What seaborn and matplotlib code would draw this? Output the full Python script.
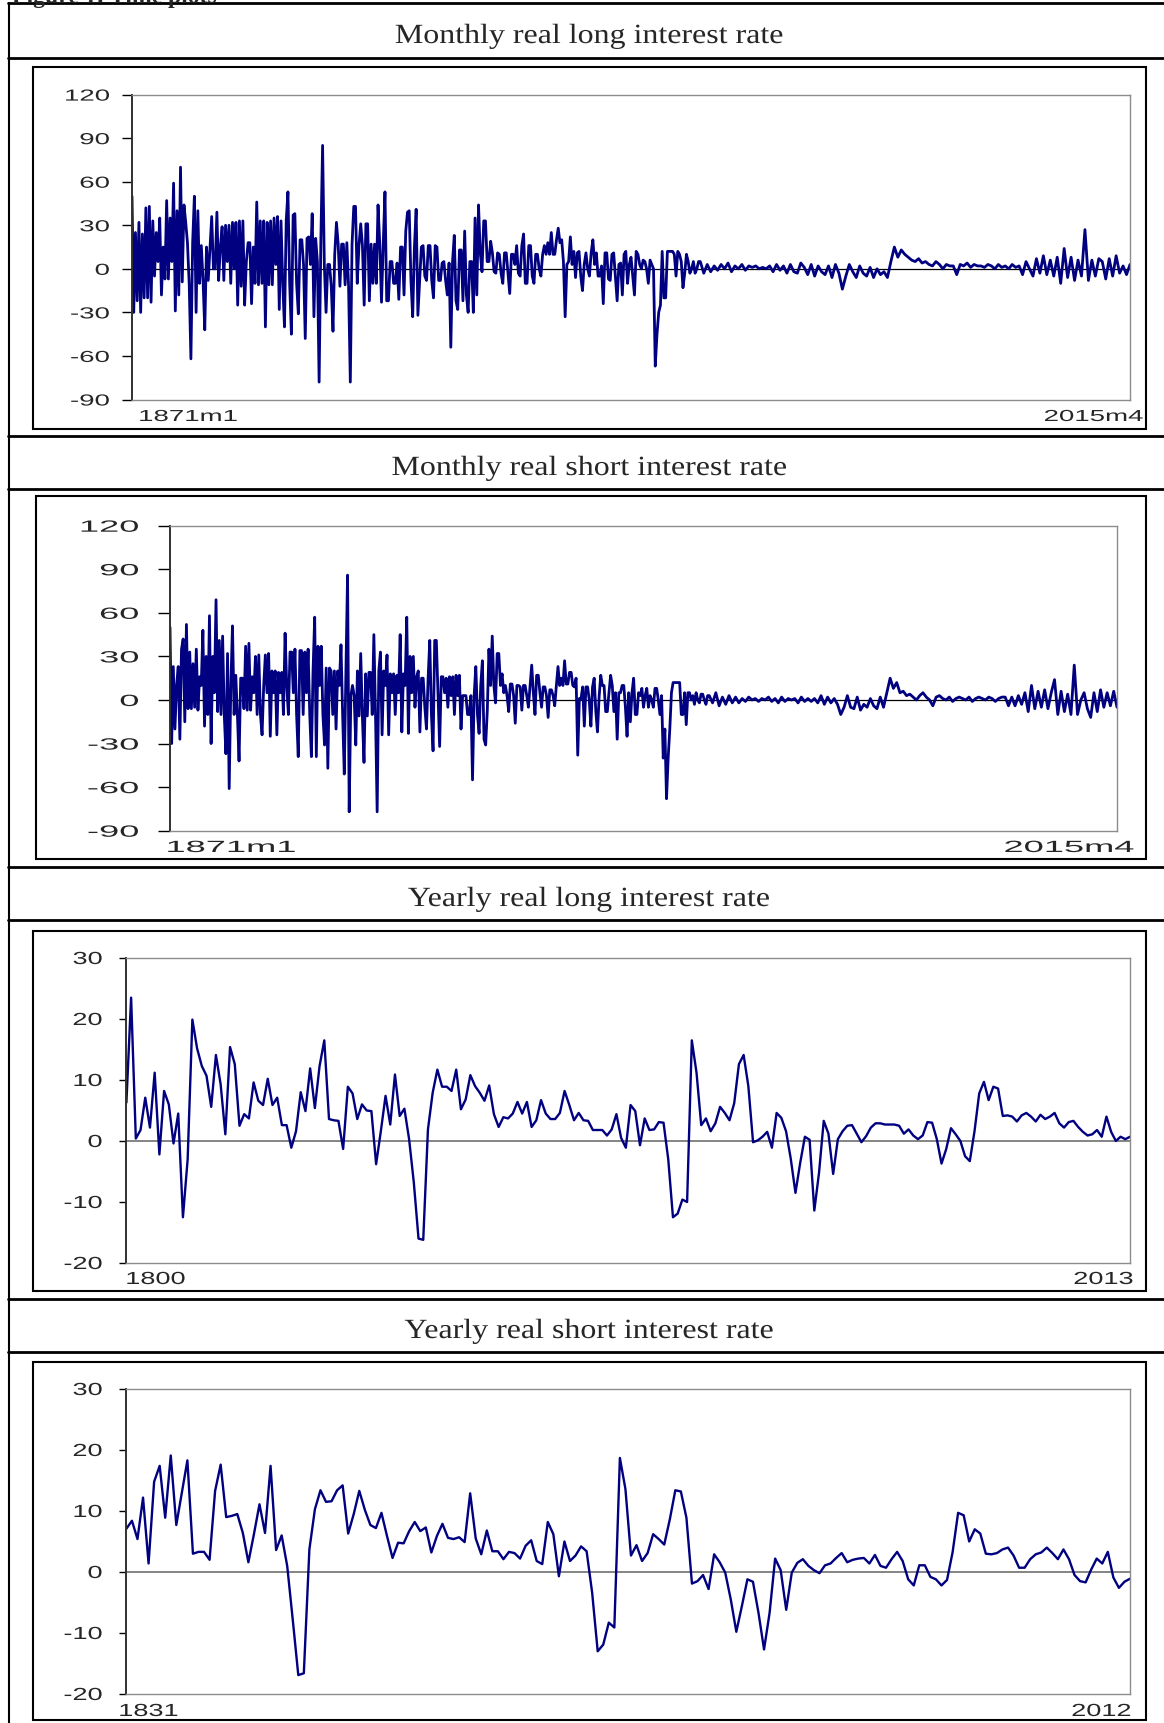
import numpy as np
import matplotlib
matplotlib.use("Agg")
import matplotlib.pyplot as plt
import seaborn as sns
from matplotlib.lines import Line2D
from matplotlib.patches import Rectangle
from matplotlib.patheffects import AbstractPathEffect
from matplotlib.transforms import Affine2D

# values.
# monthly panels: four readings a year up to 1952, two a year from 1953
long_monthly_early = [
    50, -30, 25, -22, 32, -30, 24, -20,
    42, -20, 43, -23, 33, -5, 25, 5,
    35, -18, 15, -7, 47, -7, 35, 5,
    59, -29, 40, -18, 70, -9, 44, 32,
    18, -10, -62, 18, 50, -30, 40, -10,
    16, -8, -42, 15, -8, 14, 36, 0,
    0, 39, -8, 15, 29, -8, 30, 5,
    30, -10, 32, 0, 32, -25, 33, -12,
    33, -25, 5, 18, 18, -24, 15, -10,
    46, -11, 33, -10, 33, -40, 32, -11,
    33, -11, 35, 3, 36, -28, 33, -10,
    -40, 33, 53, -10, -45, 37, 38, -10,
    -31, 20, 20, 3, -48, 21, 22, 3,
    38, -33, 21, 5, -78, 20, 85, 3,
    -30, 3, 3, -12, -43, 10, 32, 17,
    -12, 17, 17, -11, 18, -12, -78, 17,
    43, 43, -10, 16, 31, 16, -25, 31,
    31, -22, 17, -10, 17, -10, 44, 17,
    -23, 17, 53, -22, -22, 5, 5, -10,
    -10, 4, -21, 15, 15, -18, 26, 39,
    40, -8, -33, 15, 41, -32, -8, 15,
    16, -5, -8, 16, 16, -8, -20, 16,
    15, -8, -8, 4, 5, -8, -18, 4,
    -54, 5, 23, -22, -28, 13, 13, -22,
    26, -18, -30, 5, 5, -30, 35, -18,
    44, 11, -2, 33, 33, 5, 5, 19,
    11, -2, -3, 11, 10, -3, -10, 11,
    11, -3, -17, 10, 10, 3, 16, -3,
    -5, 16, 24, -10, -10, 16, 16, -5,
    -10, 10, 10, 0, -5, 10, 16, 10,
    18, 10, 25, 10, 10, 20, 28, 18,
    20, 5, -33, 3, 5, 22, 3, 12,
    -6, 11, 12, -5, -15, 3, 11, 0,
    -5, 11, 20, 3, 11, -5, -5, 2,
    -24, 11, 11, -7, -8, 10, 11, -5,
    -22, 3, 4, -18, 10, 12, -10, 3,
    8, -5, -18, 12, 10, 3, 0, 6,
    5, 0, -10, 6, 3, 0, -67, -45,
    -30, -25, 12, -20, -20, 12, 12, 12,
    12, 10, -5, 12, 10, 5, -13, -3,
    10, 5, -3, 0, 5, -3, 0, 5,
]
long_monthly_late = [
    5, -3, 3, -2, 2, -1, 3, 0, 4, -2, 2, 0, 3, -1, 2, 1,
    2, 0, 1, 0, 2, -2, 3, -1, 2, -3, 3, -2, -3, 4, 1, -4, 3, -5, 2, -2,
    -4, 2, -6, 3, -3, -14, -5, 3, -2, -6, 2, -3, -5, 1, -6, 0, -4, -2, -6, 5,
    15, 8, 13, 10, 8, 6, 5, 7, 4, 5, 3, 2, 5, 3, 0, 3, 2, 2, -4, 3,
    2, 4, 1, 3, 2, 2, 1, 3, 2, 0, 3, 1, 2, 0, 3, 1, 2, -4, 5, 0,
    -5, 7, -3, 9, -4, 6, -5, 8, -10, 14, -6, 8, -8, 6, -5, 27, -8, 6, -5, 7,
    5, -7, 7, -5, 9, -3, 2, -4, 3,
]

short_monthly_early = [
    50, -30, 23, -20, 10, 23, -27, 35,
    42, -15, 52, -6, 33, -6, 25, -5,
    35, -7, 16, 10, 48, -18, 30, -10,
    58, -30, 30, 5, 69, -8, 41, -10,
    44, -10, -37, 32, -61, 10, 51, -10,
    17, -10, -42, 15, 15, -6, 37, -7,
    39, -7, 16, 5, 30, -10, 31, -10,
    -24, 10, 31, 5, 32, -25, 20, 5,
    20, -24, 19, 5, 19, -10, 46, 10,
    -10, 33, 33, 5, 35, -10, -39, 34,
    34, -10, 33, 5, 35, -10, -39, 20,
    57, -39, 37, 10, 37, -10, -31, 22,
    -47, 22, 20, -10, 20, -20, 20, 10,
    38, -10, -51, 20, 86, -77, 3, 10,
    3, -31, 20, -11, 32, -11, -43, 18,
    -11, 19, 19, -10, 45, -10, -77, 20,
    33, -24, 20, 10, 31, -24, 18, 5,
    18, -10, 17, 5, 45, -22, 18, 10,
    57, -23, 30, 5, 30, -5, 16, 20,
    -22, 15, 15, -5, -20, 15, 41, -10,
    -35, 41, 41, 5, -32, 16, 16, 5,
    15, -5, 16, 3, 16, -10, 17, 3,
    17, -20, 3, 3, 3, -10, -10, 3,
    -55, 3, 23, -10, -23, 10, 27, -27,
    -31, -7, 35, 10, 44, 10, -2, 32,
    32, 10, 18, 5, 10, 3, -8, 11,
    11, 3, -16, 10, 10, 9, -7, 10,
    10, 3, -5, 10, 24, 5, -10, 17,
    17, 5, -5, 9, 9, 3, -12, 7,
    7, 3, -4, 10, 23, 10, 15, 10,
    27, 11, 11, 19, 19, 10, 9, 15,
    -38, 1, 1, 9, -18, 9, 9, 0,
    -18, 9, 15, -8, -22, 2, 17, 10,
    10, -8, -8, 5, 17, 10, -8, 5,
    -27, 5, 5, 10, 10, -5, -25, 5,
    -15, 5, 15, -10, -10, 5, 3, 8,
    -5, 3, 8, -5, 3, 0, -5, 8,
    8, 0, -10, 3, -40, -20, -68, -40,
    -20, 5, 12, 12, 12, 12, 12, -10,
    -10, 5, -17, 5, 5, 0, 3, -3,
    5, 0, -2, 4, 4, 0, -3, 3,
]
short_monthly_late = [
    3, -2, 5, -4, 2, -3, 3, -2, 2, -2, 1, -1, 2, 0, 1, -1,
    1, 0, 2, -1, 1, -2, 2, -1, 1, 0, 1, -2, 2, -1, 1, -1, 1, -2, 3, -3,
    2, -2, 1, -3, -10, -5, 3, -5, -6, 2, -7, -3, -5, 1, -4, -6, 2, -5, 5, 15,
    8, 12, 5, 6, 3, 4, 2, 0, 3, 5, 2, 0, -4, 2, 3, 1, 0, 2, -1, 1,
    2, 1, 0, 2, -1, 1, 2, 1, 0, 2, 1, -1, 1, 2, 2, -4, 2, -4, 3, -3,
    5, -8, 10, -6, 6, -5, 7, -6, 5, 14, -10, 6, -8, 4, -10, 24, -10, 0, 5, -6,
    -12, 5, -8, 7, -5, 5, -4, 6, -5,
]

long_years = np.arange(1800, 2014)
long_yearly = [
    6.3, 23.5, 0.4, 1.8, 7.1, 2.2, 11.2, -2.2, 8.2, 6.0,
    -0.4, 4.5, -12.5, -3.0, 19.9, 15.2, 12.3, 10.7, 5.6, 14.1,
    9.3, 1.1, 15.4, 12.6, 2.5, 4.4, 3.7, 9.6, 6.6, 5.9,
    10.2, 5.9, 7.1, 2.6, 2.6, -1.1, 1.6, 8.0, 4.9, 11.9,
    5.4, 12.3, 16.5, 3.6, 3.4, 3.3, -1.3, 8.9, 7.8, 3.6,
    6.0, 5.0, 4.9, -3.8, 1.6, 7.4, 2.7, 10.9, 4.1, 5.3,
    0.3, -6.8, -16.0, -16.2, 1.9, 7.9, 11.7, 8.9, 8.9, 8.2,
    11.7, 5.2, 6.8, 10.8, 9.0, 7.9, 6.6, 9.1, 4.4, 2.3,
    3.9, 3.7, 4.5, 6.4, 4.5, 6.4, 2.3, 3.4, 6.7, 4.5,
    3.6, 3.6, 4.6, 8.2, 5.9, 3.4, 4.6, 3.4, 3.3, 1.8,
    1.8, 1.8, 0.9, 1.9, 4.4, 0.5, -1.1, 5.9, 4.9, -0.7,
    3.7, 1.8, 1.9, 3.1, 3.0, -3.0, -12.5, -11.9, -9.6, -10.0,
    16.5, 11.2, 2.6, 3.7, 1.6, 2.9, 5.6, 4.6, 3.4, 6.2,
    12.6, 14.1, 9.0, -0.2, 0.1, 0.7, 1.5, -1.1, 4.6, 3.8,
    1.6, -2.9, -8.5, -3.6, 0.7, 0.2, -11.4, -5.2, 3.3, 1.2,
    -5.4, 0.3, 1.6, 2.5, 2.6, 1.2, -0.2, 0.8, 2.2, 2.9,
    2.9, 2.7, 2.7, 2.7, 2.5, 1.2, 1.9, 0.9, 0.3, 0.9,
    3.1, 3.0, 0.3, -3.7, -1.3, 2.1, 1.1, 0.0, -2.5, -3.3,
    1.6, 7.8, 9.7, 6.7, 8.9, 8.6, 4.1, 4.2, 4.0, 3.2,
    4.2, 4.6, 4.0, 3.2, 4.3, 3.6, 4.0, 4.6, 2.9, 2.2,
    3.1, 3.3, 2.3, 1.5, 0.9, 1.1, 1.8, 0.7, 4.0, 1.5,
    0.0, 0.7, 0.3, 0.7,
]

short_years = np.arange(1831, 2013)
short_yearly = [
    7.1, 8.4, 5.4, 12.2, 1.4, 14.8, 17.4, 8.9, 19.1, 7.7,
    13.0, 18.3, 3.0, 3.3, 3.3, 2.0, 13.3, 17.6, 9.0, 9.2,
    9.5, 6.4, 1.6, 6.2, 11.1, 6.4, 17.4, 3.6, 6.0, 1.0,
    -7.8, -16.9, -16.6, 3.7, 10.3, 13.4, 11.5, 11.6, 13.4, 14.2,
    6.3, 9.5, 13.3, 10.2, 7.7, 7.2, 9.7, 5.9, 2.3, 4.8,
    4.7, 6.7, 8.2, 6.7, 7.3, 3.2, 5.9, 7.9, 5.6, 5.4,
    5.7, 4.9, 12.9, 5.5, 2.9, 6.8, 3.4, 3.4, 2.1, 3.3,
    3.1, 2.2, 4.3, 5.2, 1.8, 1.3, 8.2, 6.2, -0.7, 5.0,
    1.8, 2.7, 4.2, 3.4, -3.4, -13.0, -11.9, -8.3, -9.1, 18.7,
    13.6, 2.7, 4.4, 1.8, 3.1, 6.2, 5.4, 4.5, 8.6, 13.4,
    13.2, 8.9, -1.9, -1.5, -0.5, -2.8, 2.9, 1.6, -0.1, -4.5,
    -9.8, -5.6, -1.2, -1.6, -6.7, -12.7, -6.7, 2.2, 0.3, -6.2,
    -0.1, 1.5, 2.1, 1.0, 0.3, -0.2, 1.1, 1.4, 2.3, 3.1,
    1.6, 2.0, 2.2, 2.3, 1.4, 2.8, 1.0, 0.7, 2.1, 3.3,
    1.8, -1.2, -2.2, 1.1, 1.1, -0.8, -1.2, -2.2, -1.3, 3.2,
    9.7, 9.3, 5.0, 7.0, 6.3, 3.0, 2.9, 3.1, 3.7, 4.0,
    2.7, 0.7, 0.7, 2.1, 2.9, 3.2, 4.0, 3.1, 2.1, 3.7,
    2.1, -0.5, -1.5, -1.7, 0.4, 2.2, 1.4, 3.3, -0.9, -2.6,
    -1.6, -1.1,
]

titles = ["Monthly real long interest rate", "Monthly real short interest rate",
          "Yearly real long interest rate", "Yearly real short interest rate"]
monthly_ticks = [-90, -60, -30, 0, 30, 60, 90, 120]
yearly_ticks = [-20, -10, 0, 10, 20, 30]
end_labels = [("1871m1", "2015m4"), ("1871m1", "2015m4"), ("1800", "2013"), ("1831", "2012")]

month_x = np.concatenate([1871 + 0.25 * np.arange(len(long_monthly_early)),
                          1953 + 0.5 * np.arange(len(long_monthly_late))])
long_monthly = long_monthly_early + long_monthly_late
short_monthly = short_monthly_early + short_monthly_late


class Stretch(AbstractPathEffect):
    # widen the glyphs horizontally, the way the pasted graph was scaled
    def __init__(self, sx, anchor="left"):
        super().__init__()
        self.sx = sx
        self.anchor = anchor

    def draw_path(self, renderer, gc, tpath, affine, rgbFace=None):
        ext = tpath.get_extents()
        x0 = {"left": ext.x0, "right": ext.x1, "center": (ext.x0 + ext.x1) / 2}[self.anchor]
        st = Affine2D().translate(-x0, 0).scale(self.sx, 1).translate(x0, 0)
        renderer.draw_path(gc, tpath, st + affine, rgbFace)


sns.set_style("white")
plt.rcParams["font.family"] = ["Liberation Sans", "DejaVu Sans"]

W, H = 1164, 1724
NAVY = "#000080"
fig = plt.figure(figsize=(W / 100, H / 100), dpi=100)
fig.patch.set_facecolor("white")


def fx(x):
    return x / W


def fy(y):
    return 1 - y / H


# table grid
for y in [4, 59, 437, 490, 868, 921, 1300, 1353]:
    fig.add_artist(Line2D([fx(8), 1], [fy(y), fy(y)], color="black", lw=2.0))
fig.add_artist(Line2D([fx(9), fx(9)], [0, fy(4)], color="black", lw=1.5))

fig.text(fx(12), fy(3), "Figure 1: Time plots", family="Liberation Serif",
         fontweight="bold", fontsize=17, va="baseline")

panels = [
    dict(x=month_x, y=long_monthly, title_y=44, box=(33, 68, 1146, 430),
         rect=(132, 95.6, 1130, 400.5), ylim=(-90, 120), ticks=monthly_ticks,
         xlim=(1871, month_x[-1]), fs=11.5, sx=1.73, tlen=7.2, tpad=9,
         lab_y=422, lab_l=139, lab_r=1143, lw=2.0, zc="black", zlw=0.9),
    dict(x=month_x, y=short_monthly, title_y=476, box=(36, 497, 1146, 860),
         rect=(170, 526.7, 1117, 831.7), ylim=(-90, 120), ticks=monthly_ticks,
         xlim=(1871, month_x[-1]), fs=11.7, sx=2.23, tlen=8.6, tpad=14,
         lab_y=853, lab_l=167, lab_r=1134, lw=2.0, zc="black", zlw=0.9),
    dict(x=long_years, y=long_yearly, title_y=907, box=(33, 932, 1146, 1292),
         rect=(126.4, 959, 1130, 1264), ylim=(-20, 30), ticks=yearly_ticks,
         xlim=(1800, 2013), fs=12.6, sx=1.55, tlen=5, tpad=12.5,
         lab_y=1285, lab_l=126, lab_r=1133, lw=1.7, zc="#707070", zlw=1.2),
    dict(x=short_years, y=short_yearly, title_y=1339, box=(33, 1363, 1146, 1721),
         rect=(126.4, 1390, 1130, 1695), ylim=(-20, 30), ticks=yearly_ticks,
         xlim=(1831, 2012), fs=12.6, sx=1.55, tlen=5, tpad=12.5,
         lab_y=1717, lab_l=119, lab_r=1131, lw=1.7, zc="#707070", zlw=1.2),
]

for p, title, (lab0, lab1) in zip(panels, titles, end_labels):
    fig.text(fx(589), fy(p["title_y"]), title, family="Liberation Serif", fontsize=20,
             ha="center", va="baseline", path_effects=[Stretch(1.15, "center")])

    x0, y0, x1, y1 = p["box"]
    fig.add_artist(Rectangle((fx(x0), fy(y1)), (x1 - x0) / W, (y1 - y0) / H,
                             transform=fig.transFigure, fill=False, ec="black", lw=1.5))

    l, t, r, b = p["rect"]
    ax = fig.add_axes([fx(l), fy(b), (r - l) / W, (b - t) / H])
    ax.axhline(0, color=p["zc"], lw=p["zlw"], zorder=1)
    sns.lineplot(x=p["x"], y=p["y"], ax=ax, color=NAVY, linewidth=p["lw"],
                 estimator=None, zorder=2)
    ax.set_xlim(*p["xlim"])
    ax.set_ylim(*p["ylim"])
    ax.set_xlabel("")
    ax.set_ylabel("")
    ax.set_xticks([])
    ax.set_yticks(p["ticks"], labels=[str(v) for v in p["ticks"]])
    ax.tick_params(axis="y", left=True, length=p["tlen"], width=1.0, pad=p["tpad"],
                   labelsize=p["fs"], color="black")
    for lab in ax.get_yticklabels():
        lab.set_path_effects([Stretch(p["sx"], "right")])
    for side in ["top", "right", "bottom"]:
        ax.spines[side].set_color("#8c8c8c")
        ax.spines[side].set_linewidth(1.0)
    ax.spines["left"].set_color("#303030")
    ax.spines["left"].set_linewidth(1.4)

    fig.text(fx(p["lab_l"]), fy(p["lab_y"]), lab0, fontsize=p["fs"], va="baseline",
             ha="left", path_effects=[Stretch(p["sx"], "left")])
    fig.text(fx(p["lab_r"]), fy(p["lab_y"]), lab1, fontsize=p["fs"], va="baseline",
             ha="right", path_effects=[Stretch(p["sx"], "right")])

fig.savefig("out.png", dpi=100, facecolor="white")
